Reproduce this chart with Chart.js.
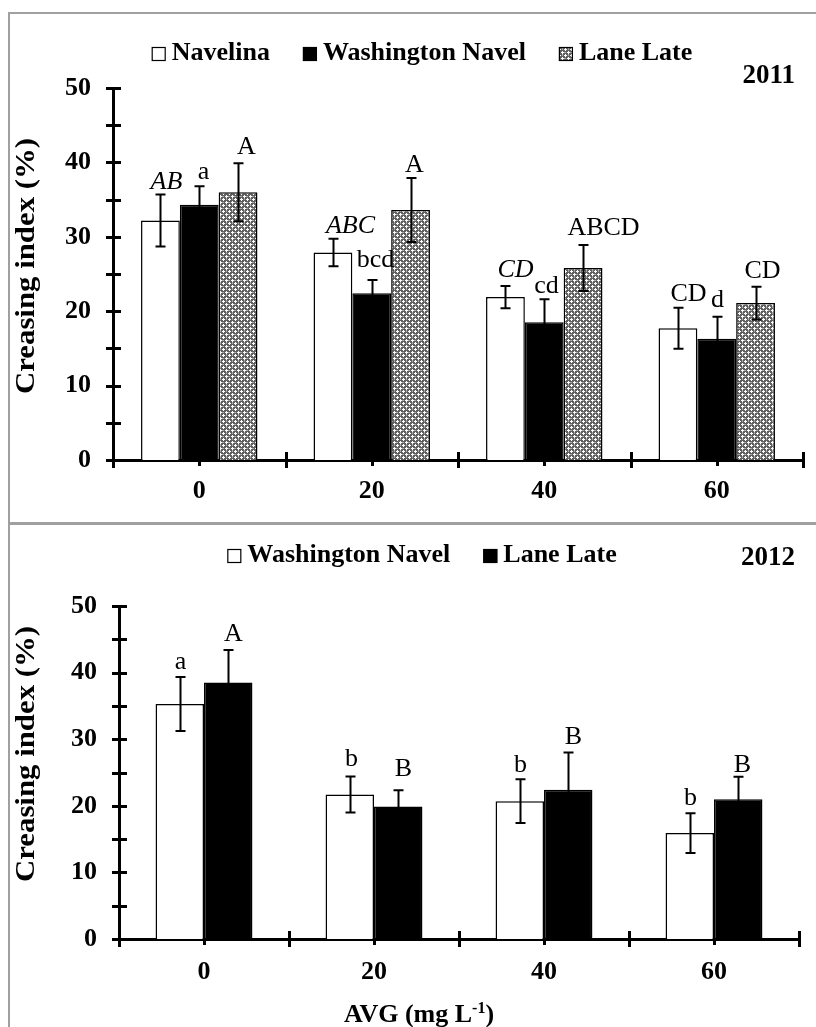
<!DOCTYPE html>
<html><head><meta charset="utf-8">
<script src="https://cdn.jsdelivr.net/npm/chart.js@4.4.1/dist/chart.umd.min.js"></script>
<style>
html,body{margin:0;padding:0;background:#fff;overflow:hidden;width:816px;height:1027px;}
.cell{position:absolute;left:8px;width:900px;border:2px solid #a0a0a0;box-sizing:border-box;}
#c1{position:absolute;left:0;top:0;}
#c2{position:absolute;left:0;top:523px;}
</style></head><body>
<div class="cell" style="top:12px;height:513px"></div>
<div class="cell" style="top:522px;height:600px"></div>
<canvas id="c1" width="816" height="523"></canvas>
<canvas id="c2" width="816" height="504"></canvas>
<script>
// ---------- data ----------
const categories = ['0', '20', '40', '60'];
const yTickStep = 10;
const yMin = 0, yMax = 50;

// 2011
const navelina2011 = [32.2, 27.9, 21.9, 17.7];
const navelina2011Err = [3.5, 1.85, 1.5, 2.75];
const navelina2011Letters = ['AB', 'ABC', 'CD', 'CD'];
const washington2011 = [34.3, 22.4, 18.5, 16.3];
const washington2011Err = [2.5, 1.8, 3.1, 2.95];
const washington2011Letters = ['a', 'bcd', 'cd', 'd'];
const laneLate2011 = [36.0, 33.6, 25.8, 21.1];
const laneLate2011Err = [3.9, 4.3, 3.1, 2.2];
const laneLate2011Letters = ['A', 'A', 'ABCD', 'CD'];

// 2012
const washington2012 = [35.3, 21.7, 20.7, 15.9];
const washington2012Err = [4.05, 2.7, 3.3, 3.0];
const washington2012Letters = ['a', 'b', 'b', 'b'];
const laneLate2012 = [38.5, 19.9, 22.4, 21.0];
const laneLate2012Err = [4.9, 2.45, 5.6, 3.35];
const laneLate2012Letters = ['A', 'B', 'B', 'B'];

// ---------- styling ----------
const SERIF = '"Liberation Serif", "Times New Roman", Times, serif';
Chart.defaults.font.family = SERIF;
Chart.defaults.color = '#000';

function makePattern() {
  const c = document.createElement('canvas');
  c.width = 6; c.height = 6;
  const g = c.getContext('2d');
  g.fillStyle = '#606060'; g.fillRect(0, 0, 6, 6);
  g.fillStyle = '#ffffff';
  const pts = [[1,0],[0,1],[1,1],[2,1],[1,2],[4,3],[3,4],[4,4],[5,4],[4,5]];
  pts.forEach(p => g.fillRect(p[0], p[1], 1, 1));
  g.fillStyle = '#a8a8a8';
  [[4,0],[0,4],[1,4],[4,1]].forEach(p => g.fillRect(p[0], p[1], 1, 1));
  return g.createPattern(c, 'repeat');
}
const patternFill = makePattern();

// label placement tweaks (style, per dataset / category): [dx, gap above error cap]
const labelPlace2011 = [
  [[6, 5], [17, 6], [10, 9], [10, 7]],
  [[4, 7], [3, 13], [2, 6], [0, 10]],
  [[8, 9], [3, 6], [20, 10], [6, 9]]
];
const italic2011 = [[true, true, true, false], [false, false, false, false], [false, false, false, false]];
const labelPlace2012 = [
  [[0, 8], [1, 10], [0, 7], [0, 8]],
  [[5, 9], [5, 14], [5, 9], [4, 5]]
];

// ---------- plugins ----------
const axisTicks = {
  id: 'axisTicks',
  afterDraw(chart) {
    const ctx = chart.ctx, xs = chart.scales.x, ys = chart.scales.y, a = chart.chartArea;
    ctx.save();
    ctx.strokeStyle = '#000';
    ctx.lineWidth = 3;
    ctx.beginPath();
    const step = ys.options.ticks.stepSize / 2;
    for (let v = ys.min; v <= ys.max + 1e-9; v += step) {
      const py = Math.round(ys.getPixelForValue(v)) + 0.5;
      ctx.moveTo(a.left - 7, py); ctx.lineTo(a.left + 8, py);
    }
    const n = chart.data.labels.length;
    const y0 = a.bottom;
    for (let k = 0; k <= n; k++) {
      const px = Math.round(xs.getPixelForValue(k - 0.5)) + 0.5;
      ctx.moveTo(px, y0 - 8); ctx.lineTo(px, y0 + 8);
    }
    for (let k = 0; k < n; k++) {
      const px = Math.round(xs.getPixelForValue(k)) + 0.5;
      ctx.moveTo(px, y0); ctx.lineTo(px, y0 + 6);
    }
    ctx.stroke();
    ctx.restore();
  }
};

const errLetters = {
  id: 'errLetters',
  afterDatasetsDraw(chart, args, o) {
    const ctx = chart.ctx, ys = chart.scales.y;
    chart.data.datasets.forEach((ds, i) => {
      const meta = chart.getDatasetMeta(i);
      meta.data.forEach((bar, j) => {
        const v = ds.data[j], e = ds.errors[j];
        const x = Math.round(bar.x) + 0.5;
        const yt = ys.getPixelForValue(v + e), yb = ys.getPixelForValue(v - e);
        ctx.save();
        ctx.strokeStyle = '#000';
        ctx.lineWidth = 2;
        ctx.beginPath();
        ctx.moveTo(x, yt); ctx.lineTo(x, yb);
        ctx.moveTo(x - 5, yt); ctx.lineTo(x + 5, yt);
        ctx.moveTo(x - 5, yb); ctx.lineTo(x + 5, yb);
        ctx.stroke();
        const place = (o.place && o.place[i] && o.place[i][j]) || [0, 8];
        const it = o.italic && o.italic[i] && o.italic[i][j];
        ctx.fillStyle = '#000';
        ctx.textAlign = 'center';
        ctx.textBaseline = 'alphabetic';
        ctx.font = (it ? 'italic ' : '') + '26px ' + SERIF;
        ctx.fillText(ds.letters[j], x + place[0], yt - place[1]);
        ctx.restore();
      });
    });
  }
};

const legendYear = {
  id: 'legendYear',
  afterDraw(chart, args, o) {
    const ctx = chart.ctx;
    ctx.save();
    ctx.font = 'bold 26px ' + SERIF;
    ctx.textBaseline = 'alphabetic';
    ctx.textAlign = 'left';
    const box = 14, gapText = 6, gapItem = 33;
    const items = chart.data.datasets.map(d => ({ label: d.label, fill: d.backgroundColor, w: ctx.measureText(d.label).width }));
    let total = 0;
    items.forEach((it, k) => { total += box + gapText + it.w + (k ? gapItem : 0); });
    let x = o.centerX - total / 2;
    items.forEach(it => {
      ctx.fillStyle = it.fill;
      ctx.fillRect(x, o.baseline - 13, box, box);
      ctx.strokeStyle = '#000'; ctx.lineWidth = 1.2;
      ctx.strokeRect(x + 0.5, o.baseline - 12.5, box - 1, box - 1);
      ctx.fillStyle = '#000';
      ctx.fillText(it.label, x + box + gapText, o.baseline);
      x += box + gapText + it.w + gapItem;
    });
    ctx.textAlign = 'right';
    ctx.font = 'bold 27px ' + SERIF;
    ctx.fillText(o.year, o.yearRight, o.yearBaseline);
    // y-axis title
    ctx.save();
    ctx.translate(o.yTitleX, o.yTitleY);
    ctx.rotate(-Math.PI / 2);
    ctx.scale(1.1, 1);
    ctx.textAlign = 'center';
    ctx.textBaseline = 'middle';
    ctx.font = 'bold 28px ' + SERIF;
    ctx.fillText(o.yTitle, 0, 0);
    ctx.restore();
    if (o.xTitle) {
      ctx.textAlign = 'left';
      ctx.textBaseline = 'alphabetic';
      const main = o.xTitle[0], sup = o.xTitle[1], end = o.xTitle[2];
      ctx.font = 'bold 26px ' + SERIF;
      const w1 = ctx.measureText(main).width, w3 = ctx.measureText(end).width;
      ctx.font = 'bold 16px ' + SERIF;
      const w2 = ctx.measureText(sup).width;
      let tx = o.xTitleCenter - (w1 + w2 + w3) / 2;
      ctx.font = 'bold 26px ' + SERIF;
      ctx.fillText(main, tx, o.xTitleBaseline); tx += w1;
      ctx.font = 'bold 16px ' + SERIF;
      ctx.fillText(sup, tx, o.xTitleBaseline - 9); tx += w2;
      ctx.font = 'bold 26px ' + SERIF;
      ctx.fillText(end, tx, o.xTitleBaseline);
    }
    ctx.restore();
  }
};

function baseOptions(cfg) {
  return {
    responsive: false,
    animation: false,
    devicePixelRatio: 1,
    layout: { padding: { left: 0, right: cfg.padRight, top: cfg.padTop, bottom: 0 } },
    plugins: {
      legend: { display: false },
      tooltip: { enabled: false },
      legendYear: cfg.legend,
      errLetters: cfg.letters
    },
    scales: {
      x: {
        grid: { display: false, drawTicks: false },
        border: { display: true, width: 3, color: '#000' },
        ticks: { font: { size: 26, weight: 'bold' }, color: '#000', padding: cfg.xPad },
        afterFit: s => { s.height = cfg.xHeight; }
      },
      y: {
        min: yMin, max: yMax,
        grid: { display: false, drawTicks: false },
        border: { display: true, width: 3, color: '#000' },
        ticks: { stepSize: yTickStep, font: { size: 26, weight: 'bold' }, color: '#000', padding: 22 },
        afterFit: s => { s.width = cfg.yWidth; }
      }
    },
    datasets: { bar: { categoryPercentage: cfg.catPct, barPercentage: 1.0, borderWidth: 1.5, borderColor: '#000' } }
  };
}

new Chart(document.getElementById('c1'), {
  type: 'bar',
  data: {
    labels: categories,
    datasets: [
      { label: 'Navelina', data: navelina2011, errors: navelina2011Err, letters: navelina2011Letters, backgroundColor: '#ffffff' },
      { label: 'Washington Navel', data: washington2011, errors: washington2011Err, letters: washington2011Letters, backgroundColor: '#000000' },
      { label: 'Lane Late', data: laneLate2011, errors: laneLate2011Err, letters: laneLate2011Letters, backgroundColor: patternFill }
    ]
  },
  options: baseOptions({ padRight: 13, padTop: 88, xHeight: 63, yWidth: 113, xPad: 16, catPct: 0.675,
    letters: { place: labelPlace2011, italic: italic2011 },
    legend: { centerX: 422, baseline: 60, year: '2011', yearRight: 795, yearBaseline: 83,
      yTitle: 'Creasing index (%)', yTitleX: 27, yTitleY: 266 } }),
  plugins: [errLetters, axisTicks, legendYear]
});

new Chart(document.getElementById('c2'), {
  type: 'bar',
  data: {
    labels: categories,
    datasets: [
      { label: 'Washington Navel', data: washington2012, errors: washington2012Err, letters: washington2012Letters, backgroundColor: '#ffffff' },
      { label: 'Lane Late', data: laneLate2012, errors: laneLate2012Err, letters: laneLate2012Letters, backgroundColor: '#000000' }
    ]
  },
  options: baseOptions({ padRight: 17, padTop: 83, xHeight: 88, yWidth: 119, xPad: 18, catPct: 0.57,
    letters: { place: labelPlace2012 },
    legend: { centerX: 422, baseline: 39, year: '2012', yearRight: 795, yearBaseline: 42,
      yTitle: 'Creasing index (%)', yTitleX: 27, yTitleY: 754 - 523,
      xTitle: ['AVG (mg L', '-1', ')'], xTitleCenter: 419, xTitleBaseline: 499 } }),
  plugins: [errLetters, axisTicks, legendYear]
});
</script>
</body></html>
